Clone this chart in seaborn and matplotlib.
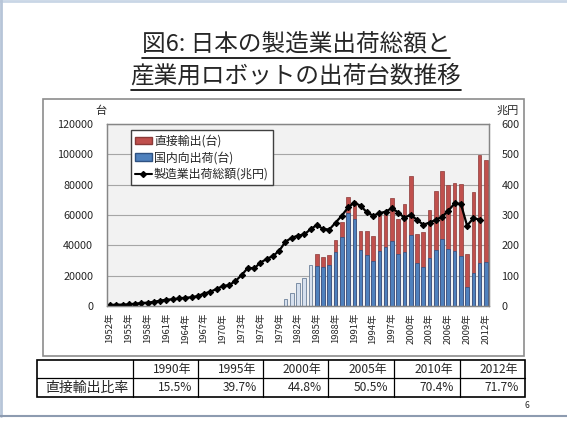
import numpy as np
import pandas as pd
import matplotlib
matplotlib.use("Agg")
import matplotlib.pyplot as plt
import seaborn as sns
from matplotlib.patches import Patch, Rectangle
from matplotlib.lines import Line2D

# robot shipments (units), 1980-84 only the total is known
early_years = [1980, 1981, 1982, 1983, 1984]
early_units = [4300, 8300, 14900, 18700, 27000]

robot_years = list(range(1985, 2013))
domestic = [26600, 25500, 26800, 35400, 45300, 61000, 57500, 37100, 33400, 29800,
            36500, 39100, 43100, 34300, 35400, 46900, 28100, 25400, 31400, 36900,
            44000, 37400, 36300, 33200, 12600, 21900, 28100, 28700]
export = [7700, 6600, 6700, 7900, 10400, 10800, 11500, 12600, 16300, 16600,
          23800, 22800, 28100, 23200, 32000, 38600, 19400, 23700, 32100, 39100,
          44900, 42200, 44800, 47300, 21400, 53000, 71200, 67500]

# manufacturing shipments (trillion yen)
sales_years = list(range(1952, 2012))
sales = [3.3, 4.4, 4.5, 5.5, 7.7, 9.9, 11, 14, 17.6, 21,
         22, 25, 27.5, 28.6, 33, 41, 47, 56, 66, 69,
         82, 102, 126, 124, 143, 155, 165, 182, 212, 225,
         232, 236, 253, 267, 254, 252, 275, 298, 325, 341,
         330, 309, 298, 306, 311, 323, 308, 291, 301, 284,
         268, 275, 284, 294, 314, 338, 337, 265, 289, 285]

table_years = ["1990年", "1995年", "2000年", "2005年", "2010年", "2012年"]
table_ratio = ["15.5%", "39.7%", "44.8%", "50.5%", "70.4%", "71.7%"]

W, H = 567, 426
def fx(x):
    return x / W
def fy(y):
    return 1 - y / H

sns.set_style("white")
plt.rcParams['font.family'] = ['Noto Sans CJK JP', 'DejaVu Sans']

fig = plt.figure(figsize=(5.67, 4.26), dpi=100)
ax = fig.add_axes([fx(107), fy(306), (489 - 107) / W, (306 - 124) / H])

df = pd.DataFrame({"year": robot_years, "domestic": domestic, "export": export})
df["total"] = df["domestic"] + df["export"]
early = pd.DataFrame({"year": early_years, "units": early_units})

sns.barplot(data=df, x="year", y="total", native_scale=True, width=0.58,
            color="#c0504d", edgecolor="#8b3a38", linewidth=0.5,
            saturation=1, errorbar=None, ax=ax)
sns.barplot(data=df, x="year", y="domestic", native_scale=True, width=0.58,
            color="#4f81bd", edgecolor="#2f5282", linewidth=0.5,
            saturation=1, errorbar=None, ax=ax)
sns.barplot(data=early, x="year", y="units", native_scale=True, width=0.58,
            color="#d6e0ee", edgecolor="#6b7f99", linewidth=0.6,
            saturation=1, errorbar=None, ax=ax)

ax2 = ax.twinx()
sns.lineplot(x=sales_years, y=sales, ax=ax2, color="black", marker="D",
             markersize=3.2, markeredgecolor="black", linewidth=1.6)

ax.set_xlim(1951.5, 2012.5)
ax.set_ylim(0, 120000)
ax.set_yticks(range(0, 120001, 20000))
ax2.set_ylim(0, 600)
ax2.set_yticks(range(0, 601, 100))
ax.set_xticks(range(1952, 2013, 3))
ax.set_xticklabels([f"{y}年" for y in range(1952, 2013, 3)], rotation=90, fontsize=6.8)
ax.set_xticks(np.arange(1951.5, 2013, 1), minor=True)
ax.tick_params(axis='x', which='both', length=3, color='#868686', pad=2)
ax.tick_params(axis='y', length=0, pad=10, labelsize=7.8)
ax2.tick_params(axis='y', length=0, pad=9, labelsize=7.8)
ax.set_xlabel("")
ax.set_ylabel("")
ax2.set_ylabel("")

ax.set_facecolor("#f2f2f2")
ax.yaxis.grid(True, color="#a6a6a6", lw=0.8)
ax.set_axisbelow(True)
for a in (ax, ax2):
    for s in a.spines.values():
        s.set_color("#868686")
        s.set_linewidth(0.9)

handles = [Patch(facecolor="#c0504d", edgecolor="#8b3a38"),
           Patch(facecolor="#4f81bd", edgecolor="#2f5282"),
           Line2D([], [], color="black", marker="D", markersize=3, lw=1.5)]
labels = ["直接輸出(台)", "国内向出荷(台)", "製造業出荷総額(兆円)"]
ax2.legend(handles, labels, loc="upper left", bbox_to_anchor=(0.062, 0.965),
           fontsize=8.6, frameon=True, fancybox=False, edgecolor="#404040",
           framealpha=1, borderpad=0.35, labelspacing=0.3, handlelength=1.4,
           handleheight=0.6, handletextpad=0.2, borderaxespad=0)

fig.text(fx(101), fy(111), "台", ha="center", va="center", fontsize=8)
fig.text(fx(508), fy(111), "兆円", ha="center", va="center", fontsize=8)

# chart frame
fig.add_artist(Rectangle((fx(43), fy(356)), (524 - 43) / W, (356 - 99) / H,
                         transform=fig.transFigure, fill=False,
                         edgecolor="#8c8c8c", lw=1.2))

# title with underline
t1 = fig.text(fx(296), fy(44), "図6: 日本の製造業出荷総額と", ha="center", va="center", fontsize=17)
t2 = fig.text(fx(296), fy(76), "産業用ロボットの出荷台数推移", ha="center", va="center", fontsize=17)
fig.canvas.draw()
inv = fig.transFigure.inverted()
for t, yl in [(t1, 57.5), (t2, 90)]:
    bb = t.get_window_extent().transformed(inv)
    fig.add_artist(Line2D([bb.x0, bb.x1], [fy(yl), fy(yl)], color="black", lw=1.2))

# table
cols = [37, 133.3, 198.3, 263.3, 328.3, 394, 460, 525]
rows = [360, 378.3, 396.7]
for x in cols[1:-1]:
    fig.add_artist(Line2D([fx(x), fx(x)], [fy(rows[0]), fy(rows[2])], color="black", lw=0.9))
fig.add_artist(Line2D([fx(cols[0]), fx(cols[-1])], [fy(rows[1]), fy(rows[1])], color="black", lw=0.9))
fig.add_artist(Rectangle((fx(cols[0]), fy(rows[2])), (cols[-1] - cols[0]) / W,
                         (rows[2] - rows[0]) / H, transform=fig.transFigure,
                         fill=False, edgecolor="black", lw=1.2))
hy = (rows[0] + rows[1]) / 2
vy = (rows[1] + rows[2]) / 2
for i in range(len(table_years)):
    fig.text(fx(cols[i + 2] - 7), fy(hy), table_years[i], ha="right", va="center", fontsize=8.6)
    fig.text(fx(cols[i + 2] - 6), fy(vy), table_ratio[i], ha="right", va="center", fontsize=8.6)
fig.text(fx(cols[0] + 8), fy(vy), "直接輸出比率", ha="left", va="center", fontsize=10)
fig.text(fx(527), fy(405), "6", ha="center", va="center", fontsize=6)

# slide edges
fig.add_artist(Line2D([0, 1], [fy(1), fy(1)], color="#c9d6e6", lw=2))
fig.add_artist(Line2D([fx(1), fx(1)], [fy(0), fy(416)], color="#b7c5d8", lw=2))
fig.add_artist(Line2D([0, 1], [fy(416), fy(416)], color="#8d9bb0", lw=1.5))

fig.savefig("out.png", dpi=100)
